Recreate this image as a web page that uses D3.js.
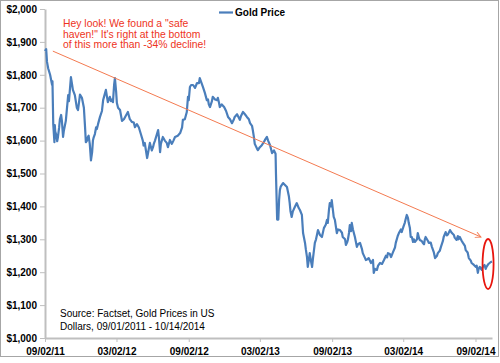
<!DOCTYPE html>
<html>
<head>
<meta charset="utf-8">
<script src="https://cdn.jsdelivr.net/npm/d3@7"></script>
<style>
body { margin: 0; background: #fff; }
svg { display: block; font-family: Arial, "Liberation Sans", sans-serif; }
</style>
</head>
<body>
<div id="chart"></div>
<script>
"use strict"

// gold price readings per year, [date, price]
var gold2011 = [
    ["2011-09-02",1872],["2011-09-05",1878],["2011-09-07",1840],["2011-09-10",1820],["2011-09-15",1800],
    ["2011-09-20",1770],["2011-09-21",1780],["2011-09-23",1650],["2011-09-26",1595],["2011-09-27",1647],
    ["2011-09-28",1628],["2011-09-30",1620],["2011-10-03",1598],["2011-10-05",1611],["2011-10-08",1640],
    ["2011-10-10",1665],["2011-10-13",1678],["2011-10-15",1660],["2011-10-18",1611],["2011-10-20",1630],
    ["2011-10-25",1660],["2011-10-31",1738],["2011-11-02",1720],["2011-11-07",1793],["2011-11-10",1770],
    ["2011-11-12",1754],["2011-11-17",1738],["2011-11-22",1700],["2011-11-25",1693],["2011-11-28",1720],
    ["2011-11-30",1740],["2011-12-05",1730],["2011-12-10",1700],["2011-12-13",1640],["2011-12-15",1595],
    ["2011-12-18",1600],["2011-12-20",1610],["2011-12-22",1615],["2011-12-25",1590],["2011-12-28",1540],
    ["2011-12-31",1565]
];
var gold2012 = [
    ["2012-01-02",1600],["2012-01-04",1610],["2012-01-07",1620],["2012-01-10",1640],["2012-01-12",1635],
    ["2012-01-15",1650],["2012-01-20",1672],["2012-01-25",1690],["2012-01-28",1723],["2012-02-02",1745],
    ["2012-02-04",1754],["2012-02-09",1717],["2012-02-14",1733],["2012-02-17",1720],["2012-02-20",1725],
    ["2012-02-22",1717],["2012-02-25",1770],["2012-02-27",1790],["2012-03-01",1750],["2012-03-03",1714],
    ["2012-03-06",1700],["2012-03-11",1693],["2012-03-16",1660],["2012-03-21",1665],["2012-03-24",1672],
    ["2012-03-31",1687],["2012-04-05",1665],["2012-04-10",1657],["2012-04-15",1655],["2012-04-18",1641],
    ["2012-04-23",1650],["2012-04-28",1640],["2012-05-03",1620],["2012-05-08",1600],["2012-05-10",1585],
    ["2012-05-13",1593],["2012-05-16",1570],["2012-05-19",1547],["2012-05-21",1560],["2012-05-26",1593],
    ["2012-05-31",1570],["2012-06-03",1580],["2012-06-05",1590],["2012-06-08",1600],["2012-06-13",1620],
    ["2012-06-16",1632],["2012-06-18",1610],["2012-06-21",1565],["2012-06-23",1590],["2012-06-28",1611],
    ["2012-07-03",1600],["2012-07-08",1593],["2012-07-11",1580],["2012-07-16",1602],["2012-07-21",1590],
    ["2012-07-25",1600],["2012-07-29",1611],["2012-08-05",1615],["2012-08-11",1623],["2012-08-16",1640],
    ["2012-08-18",1663],["2012-08-23",1665],["2012-08-28",1687],["2012-08-31",1733],["2012-09-02",1723],
    ["2012-09-05",1763],["2012-09-08",1769],["2012-09-13",1769],["2012-09-18",1760],["2012-09-23",1775],
    ["2012-09-28",1775],["2012-09-30",1790],["2012-10-03",1780],["2012-10-08",1763],["2012-10-13",1745],
    ["2012-10-18",1723],["2012-10-21",1725],["2012-10-23",1710],["2012-10-26",1702],["2012-10-31",1720],
    ["2012-11-02",1733],["2012-11-08",1725],["2012-11-13",1723],["2012-11-15",1730],["2012-11-18",1715],
    ["2012-11-20",1702],["2012-11-25",1710],["2012-12-01",1702],["2012-12-06",1690],["2012-12-11",1672],
    ["2012-12-16",1665],["2012-12-21",1653],["2012-12-26",1665],["2012-12-28",1672]
];
var gold2013 = [
    ["2013-01-03",1680],["2013-01-10",1663],["2013-01-13",1675],["2013-01-18",1687],["2013-01-23",1680],
    ["2013-01-28",1672],["2013-02-02",1665],["2013-02-05",1653],["2013-02-10",1645],["2013-02-12",1632],
    ["2013-02-15",1610],["2013-02-17",1590],["2013-02-23",1575],["2013-02-25",1571],["2013-03-02",1580],
    ["2013-03-07",1586],["2013-03-12",1595],["2013-03-15",1602],["2013-03-20",1611],["2013-03-23",1600],
    ["2013-03-28",1586],["2013-04-02",1562],["2013-04-07",1570],["2013-04-11",1560],["2013-04-12",1500],
    ["2013-04-15",1360],["2013-04-16",1375],["2013-04-17",1395],["2013-04-18",1360],["2013-04-20",1420],
    ["2013-04-22",1450],["2013-04-24",1460],["2013-04-30",1471],["2013-05-05",1465],["2013-05-10",1459],
    ["2013-05-15",1430],["2013-05-17",1410],["2013-05-19",1385],["2013-05-22",1368],["2013-05-25",1385],
    ["2013-05-30",1398],["2013-06-04",1410],["2013-06-09",1395],["2013-06-12",1389],["2013-06-17",1374],
    ["2013-06-20",1319],["2013-06-25",1289],["2013-06-27",1270],["2013-06-30",1246],["2013-07-02",1216],
    ["2013-07-05",1240],["2013-07-07",1258],["2013-07-10",1235],["2013-07-13",1216],["2013-07-15",1240],
    ["2013-07-20",1289],["2013-07-23",1300],["2013-07-28",1328],["2013-08-02",1313],["2013-08-07",1307],
    ["2013-08-12",1334],["2013-08-17",1345],["2013-08-20",1359],["2013-08-22",1350],["2013-08-25",1390],
    ["2013-08-27",1410],["2013-08-30",1400],["2013-09-01",1419],["2013-09-04",1389],["2013-09-06",1368],
    ["2013-09-09",1359],["2013-09-14",1319],["2013-09-17",1330],["2013-09-22",1328],["2013-09-27",1320],
    ["2013-09-29",1307],["2013-10-05",1300],["2013-10-07",1283],["2013-10-10",1290],["2013-10-12",1298],
    ["2013-10-15",1320],["2013-10-17",1343],["2013-10-20",1325],["2013-10-22",1350],["2013-10-25",1330],
    ["2013-10-30",1307],["2013-11-04",1277],["2013-11-07",1285],["2013-11-12",1289],["2013-11-17",1270],
    ["2013-11-19",1258],["2013-11-24",1245],["2013-11-27",1237],["2013-12-02",1240],["2013-12-04",1243],
    ["2013-12-10",1228],["2013-12-15",1237],["2013-12-17",1198],["2013-12-20",1210],["2013-12-25",1207],
    ["2013-12-28",1220]
];
var gold2014 = [
    ["2014-01-02",1228],["2014-01-07",1225],["2014-01-12",1237],["2014-01-17",1250],["2014-01-20",1245],
    ["2014-01-22",1258],["2014-01-27",1255],["2014-01-30",1246],["2014-02-04",1261],["2014-02-09",1275],
    ["2014-02-11",1289],["2014-02-16",1310],["2014-02-19",1319],["2014-02-24",1330],["2014-02-26",1322],
    ["2014-03-03",1340],["2014-03-06",1350],["2014-03-08",1360],["2014-03-11",1374],["2014-03-14",1365],
    ["2014-03-16",1350],["2014-03-19",1334],["2014-03-21",1307],["2014-03-24",1307],["2014-03-27",1292],
    ["2014-03-29",1300],["2014-04-01",1292],["2014-04-06",1300],["2014-04-08",1319],["2014-04-11",1305],
    ["2014-04-13",1298],["2014-04-18",1295],["2014-04-21",1289],["2014-04-24",1285],["2014-04-26",1300],
    ["2014-04-28",1307],["2014-05-04",1295],["2014-05-06",1289],["2014-05-11",1290],["2014-05-14",1277],
    ["2014-05-19",1260],["2014-05-22",1243],["2014-05-27",1250],["2014-05-29",1258],["2014-06-03",1265],
    ["2014-06-06",1277],["2014-06-11",1295],["2014-06-13",1307],["2014-06-18",1322],["2014-06-21",1312],
    ["2014-06-24",1315],["2014-06-29",1328],["2014-07-04",1319],["2014-07-09",1313],["2014-07-11",1305],
    ["2014-07-16",1298],["2014-07-19",1310],["2014-07-21",1300],["2014-07-24",1307],["2014-07-29",1295],
    ["2014-08-01",1289],["2014-08-06",1280],["2014-08-08",1267],["2014-08-13",1260],["2014-08-16",1243],
    ["2014-08-21",1235],["2014-08-23",1228],["2014-08-29",1222],["2014-09-03",1216],["2014-09-05",1220],
    ["2014-09-08",1198],["2014-09-10",1210],["2014-09-13",1216],["2014-09-15",1212],["2014-09-18",1207],
    ["2014-09-20",1215],["2014-09-25",1222],["2014-09-28",1210],["2014-09-30",1216],["2014-10-05",1225],
    ["2014-10-08",1228],["2014-10-11",1231],["2014-10-14",1232]
];

var seriesName = "Gold Price";
var xTickDates = ["2011-09-02", "2012-03-02", "2012-09-02", "2013-03-02", "2013-09-02", "2014-03-02", "2014-09-02"];
var yTickValues = [1000, 1100, 1200, 1300, 1400, 1500, 1600, 1700, 1800, 1900, 2000];

// annotation: trend arrow, note and ring around the last prices
var trendDates = ["2011-09-22", "2014-09-16"];
var trendValues = [1872, 1307];
var ringDate = "2014-10-04";
var ringValue = 1225;
var noteLines = ['Hey look! We found a "safe', 'haven!" It\'s right at the bottom', 'of this more than -34% decline!'];
var sourceLines = ["Source: Factset, Gold Prices in US", "Dollars, 09/01/2011 - 10/14/2014"];

var parseDate = d3.timeParse("%Y-%m-%d");
var goldData = gold2011.concat(gold2012, gold2013, gold2014)
    .map(function(d) { return {date: parseDate(d[0]), value: d[1]}; });

var width = 500;
var height = 363;
var svg = d3.select("#chart")
    .append("svg")
    .attr("width", width)
    .attr("height", height);

// outer frame
svg.append("rect")
    .attr("x", 0.5)
    .attr("y", 0.5)
    .attr("width", 498)
    .attr("height", 356)
    .attr("fill", "#fff")
    .attr("stroke", "#a6a6a6");

var x = d3.scaleTime()
    .domain([goldData[0].date, goldData[goldData.length - 1].date])
    .range([45, 492]);
var y = d3.scaleLinear()
    .domain([1000, 2000])
    .range([338, 9]);

// axes
var yAxis = svg.append("g")
    .attr("transform", "translate(45,0)")
    .call(d3.axisLeft(y)
        .tickValues(yTickValues)
        .tickFormat(d3.format("$,.0f"))
        .tickSize(5)
        .tickSizeOuter(0)
        .tickPadding(3));
var xAxis = svg.append("g")
    .attr("transform", "translate(0,338)")
    .call(d3.axisBottom(x)
        .tickValues(xTickDates.map(parseDate))
        .tickFormat(d3.timeFormat("%m/%d/%y"))
        .tickSize(4)
        .tickSizeOuter(0)
        .tickPadding(6));
[yAxis, xAxis].forEach(function(g) {
    g.select(".domain").attr("stroke", "#bfbfbf").attr("stroke-width", 2);
    g.selectAll(".tick line").attr("stroke", "#bfbfbf").attr("stroke-width", 1);
    g.selectAll("text")
        .attr("fill", "#000")
        .style("font-size", "10px")
        .style("font-weight", "bold")
        .style("font-family", "Arial, 'Liberation Sans', sans-serif");
});

// price line
var line = d3.line()
    .x(function(d) { return x(d.date); })
    .y(function(d) { return y(d.value); });
svg.append("path")
    .datum(goldData)
    .attr("fill", "none")
    .attr("stroke", "#4a7ebb")
    .attr("stroke-width", 2.2)
    .attr("stroke-linejoin", "round")
    .attr("d", line);

// legend
svg.append("line")
    .attr("x1", 219).attr("x2", 233)
    .attr("y1", 12.5).attr("y2", 12.5)
    .attr("stroke", "#4a7ebb")
    .attr("stroke-width", 2.2);
svg.append("text")
    .attr("x", 235)
    .attr("y", 16)
    .style("font-size", "10px")
    .style("font-weight", "bold")
    .text(seriesName);

// trend arrow
svg.append("defs").append("marker")
    .attr("id", "arrow")
    .attr("viewBox", "0 0 10 10")
    .attr("refX", 9)
    .attr("refY", 5)
    .attr("markerWidth", 7)
    .attr("markerHeight", 7)
    .attr("markerUnits", "userSpaceOnUse")
    .attr("orient", "auto")
    .append("path")
    .attr("d", "M1,1 L9,5 L1,9")
    .attr("fill", "none")
    .attr("stroke", "#f47a50")
    .attr("stroke-width", 1.3);
svg.append("line")
    .attr("x1", x(parseDate(trendDates[0])))
    .attr("y1", y(trendValues[0]))
    .attr("x2", x(parseDate(trendDates[1])))
    .attr("y2", y(trendValues[1]))
    .attr("stroke", "#f47a50")
    .attr("stroke-width", 1)
    .attr("marker-end", "url(#arrow)");

// ring around the latest prices
svg.append("ellipse")
    .attr("cx", x(parseDate(ringDate)))
    .attr("cy", y(ringValue))
    .attr("rx", 5.5)
    .attr("ry", 25)
    .attr("fill", "none")
    .attr("stroke", "#e8160e")
    .attr("stroke-width", 1.8);

// note text
svg.append("text")
    .attr("fill", "#ee3322")
    .style("font-size", "10.4px")
    .selectAll("tspan")
    .data(noteLines)
    .enter()
    .append("tspan")
    .attr("x", 63)
    .attr("y", function(d, i) { return 26.7 + i * 10.8; })
    .text(function(d) { return d; });

// source text
svg.append("text")
    .attr("fill", "#000")
    .style("font-size", "10px")
    .selectAll("tspan")
    .data(sourceLines)
    .enter()
    .append("tspan")
    .attr("x", 60)
    .attr("y", function(d, i) { return 317 + i * 13.3; })
    .text(function(d) { return d; });
</script>
</body>
</html>
